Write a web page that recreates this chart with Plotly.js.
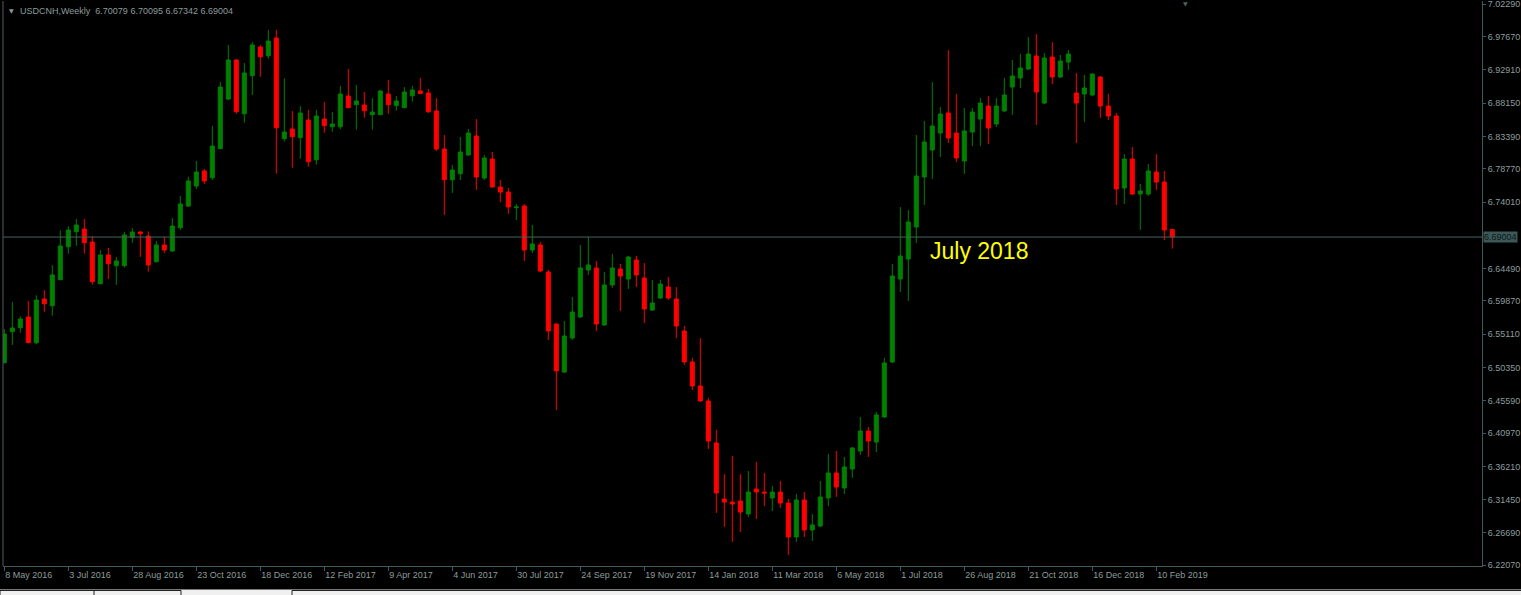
<!DOCTYPE html>
<html>
<head>
<meta charset="utf-8">
<script src="https://cdn.plot.ly/plotly-3.0.1.min.js"></script>
<style>
html,body{margin:0;padding:0;background:#000;overflow:hidden;}
#chart{width:1521px;height:595px;}
</style>
</head>
<body>
<div id="chart"></div>
<script>
// USDCNH weekly candles, first bar = week of 8 May 2016
const firstWeek = '2016-05-08';
const openV = [6.5103,6.5547,6.5604,6.5757,6.5389,6.6014,6.5918,6.6290,6.6762,6.6977,
6.7015,6.6829,6.6233,6.6644,6.6491,6.6491,6.6897,6.6972,6.6915,6.6548,
6.6787,6.6701,6.7034,6.7344,6.7630,6.7845,6.7749,6.8164,6.8874,6.9432,
6.8664,6.9208,6.9618,6.9493,6.9747,6.8307,6.8445,6.8321,6.8574,6.8006,
6.8588,6.8478,6.8478,6.8917,6.8793,6.8789,6.8650,6.8650,6.8946,6.8779,
6.8750,6.8921,6.8989,6.8960,6.8703,6.8159,6.7720,6.7806,6.8074,6.8345,
6.7745,6.8016,6.7616,6.7544,6.7320,6.7344,6.6715,6.6787,6.6400,6.5657,
6.4970,6.5457,6.5757,6.6429,6.6458,6.5643,6.6215,6.6443,6.6300,6.6572,
6.6315,6.5857,6.6029,6.6186,6.6014,6.5557,6.5114,6.4770,6.4556,6.3955,
6.3154,6.3111,6.3126,6.2940,6.3297,6.3254,6.3169,6.3254,6.3097,6.2611,
6.3140,6.2711,6.2768,6.3169,6.3526,6.3312,6.3583,6.3841,6.4127,6.3969,
6.4327,6.5114,6.6300,6.6586,6.7044,6.7759,6.8145,6.8388,6.8674,6.8388,
6.7988,6.8402,6.8588,6.8774,6.8517,6.8703,6.9046,6.9175,6.9303,6.9489,
6.8817,6.9475,6.9189,6.9403,6.8960,6.8946,6.8932,6.9189,6.8774,6.8631,
6.7602,6.8016,6.7516,6.7516,6.7830,6.7687,6.70079];
const highV = [6.5585,6.5971,6.5767,6.5986,6.6067,6.6143,6.6496,6.6997,6.7054,6.7158,
6.7158,6.6915,6.6715,6.6744,6.6615,6.6972,6.7030,6.6982,6.6982,6.6844,
6.6901,6.7173,6.7487,6.7763,6.7988,6.7873,6.8488,6.9117,6.9647,6.9446,
6.9389,6.9689,6.9647,6.9861,6.9861,6.9170,6.8703,6.8774,6.8717,6.8717,
6.8831,6.8688,6.9060,6.9303,6.9075,6.8974,6.8889,6.9003,6.9146,6.8917,
6.9046,6.9060,6.9175,6.9017,6.8889,6.8360,6.7931,6.8331,6.8445,6.8588,
6.8074,6.8116,6.7716,6.7602,6.7373,6.7373,6.7073,6.6829,6.6429,6.5660,
6.5700,6.6043,6.6787,6.6901,6.6558,6.6400,6.6658,6.6515,6.6629,6.6629,
6.6529,6.6286,6.6286,6.6329,6.6186,6.5628,6.5171,6.5457,6.4599,6.4141,
6.3512,6.3769,6.3512,6.3555,6.3683,6.3526,6.3340,6.3412,6.3154,6.3226,
6.3254,6.2940,6.3412,6.3798,6.3841,6.3755,6.3898,6.4327,6.4184,6.4399,
6.5171,6.6515,6.7330,6.7287,6.8360,6.8560,6.9117,6.8760,6.9575,6.8946,
6.8746,6.8746,6.8889,6.8917,6.8889,6.9175,6.9432,6.9518,6.9761,6.9804,
6.9532,6.9689,6.9504,6.9575,6.9246,6.9218,6.9240,6.9203,6.8946,6.8674,
6.8088,6.8188,6.7659,6.7945,6.8088,6.7845,6.70095];
const lowV = [6.5095,6.5357,6.5532,6.5385,6.5371,6.5833,6.5776,6.6286,6.6662,6.6777,
6.6662,6.6219,6.6222,6.6300,6.6215,6.6462,6.6819,6.6615,6.6405,6.6536,
6.6672,6.6686,6.7001,6.7330,6.7587,6.7659,6.7716,6.8159,6.8860,6.8664,
6.8535,6.8932,6.9193,6.9451,6.7806,6.8264,6.7892,6.8021,6.7906,6.7935,
6.8392,6.8407,6.8441,6.8745,6.8435,6.8607,6.8435,6.8646,6.8664,6.8707,
6.8746,6.8836,6.8950,6.8674,6.8131,6.7216,6.7530,6.7716,6.8064,6.7573,
6.7716,6.7612,6.7401,6.7230,6.7144,6.6558,6.6672,6.6400,6.5428,6.4427,
6.4956,6.5428,6.5743,6.6358,6.5557,6.5628,6.6172,6.5843,6.6157,6.6186,
6.5671,6.5843,6.6014,6.6000,6.5457,6.5071,6.4713,6.4541,6.3869,6.2954,
6.2754,6.2539,6.2682,6.2897,6.2868,6.3054,6.2983,6.3026,6.2354,6.2539,
6.2611,6.2554,6.2754,6.3054,6.3183,6.3226,6.3455,6.3784,6.3755,6.3826,
6.4313,6.5099,6.6114,6.5986,6.6815,6.7359,6.7730,6.8045,6.8245,6.7973,
6.7802,6.8202,6.8202,6.8231,6.8474,6.8688,6.8646,6.9032,6.9289,6.8503,
6.8803,6.9089,6.9175,6.9289,6.8245,6.8545,6.8917,6.8603,6.8574,6.7359,
6.7373,6.7502,6.7001,6.7487,6.7573,6.6858,6.67342];
const closeV = [6.5514,6.5600,6.5728,6.5389,6.6000,6.5947,6.6358,6.6772,6.7001,6.7073,
6.6819,6.6262,6.6644,6.6519,6.6558,6.6930,6.6972,6.6948,6.6501,6.6787,
6.6715,6.7058,6.7373,6.7702,6.7830,6.7702,6.8202,6.9046,6.9432,6.8693,
6.9246,6.9647,6.9479,6.9704,6.8464,6.8402,6.8335,6.8674,6.7978,6.8631,
6.8493,6.8517,6.8946,6.8750,6.8846,6.8707,6.8688,6.8989,6.8793,6.8846,
6.8974,6.9003,6.8953,6.8693,6.8159,6.7720,6.7859,6.8116,6.8388,6.7759,
6.8031,6.7616,6.7544,6.7330,6.7330,6.6715,6.6801,6.6415,6.5557,6.4985,
6.5485,6.5828,6.6458,6.6501,6.5657,6.6215,6.6458,6.6343,6.6615,6.6358,
6.5871,6.5957,6.6229,6.6029,6.5628,6.5114,6.4770,6.4556,6.3984,6.3240,
6.3111,6.3083,6.2968,6.3254,6.3254,6.3240,6.3254,6.3097,6.2611,6.3140,
6.2711,6.2783,6.3183,6.3526,6.3326,6.3612,6.3884,6.4127,6.3984,6.4356,
6.5099,6.6343,6.6629,6.7115,6.7773,6.8259,6.8488,6.8660,6.8317,6.8031,
6.8417,6.8688,6.8817,6.8460,6.8774,6.8932,6.9203,6.9318,6.9518,6.8974,
6.9461,6.9189,6.9418,6.9518,6.8817,6.9032,6.9232,6.8774,6.8631,6.7587,
6.8016,6.7516,6.7559,6.7845,6.7687,6.7001,6.69004];

const tickDates = ['2016-05-08','2016-07-03','2016-08-28','2016-10-23','2016-12-18','2017-02-12','2017-04-09','2017-06-04','2017-07-30','2017-09-24','2017-11-19','2018-01-14','2018-03-11','2018-05-06','2018-07-01','2018-08-26','2018-10-21','2018-12-16','2019-02-10'];
const tickLabels = ['8 May 2016','3 Jul 2016','28 Aug 2016','23 Oct 2016','18 Dec 2016','12 Feb 2017','9 Apr 2017','4 Jun 2017','30 Jul 2017','24 Sep 2017','19 Nov 2017','14 Jan 2018','11 Mar 2018','6 May 2018','1 Jul 2018','26 Aug 2018','21 Oct 2018','16 Dec 2018','10 Feb 2019'];
const priceTicks = [7.02290,6.97670,6.92910,6.88150,6.83390,6.78770,6.74010,6.64490,6.59870,6.55110,6.50350,6.45590,6.40970,6.36210,6.31450,6.26690,6.22070];
const lastPrice = 6.69004;
const headerText = 'USDCNH,Weekly\u00a0\u00a06.70079 6.70095 6.67342 6.69004';
const noteText = 'July 2018';

// weekly bar dates
const dates = [];
const d0 = new Date(firstWeek + 'T00:00:00Z').getTime();
for (let i = 0; i < openV.length; i++) {
  dates.push(new Date(d0 + i * 7 * 86400000).toISOString().slice(0, 10));
}

const DAY = 86400000;
const xStart = d0 - 1.14 * DAY;
const xEnd = xStart + 1479 * 7 / 8 * DAY;
const iso = t => new Date(t).toISOString().slice(0, 19).replace('T', ' ');

const axisCol = '#3e5a5a';
const txtCol = '#8c9c9c';
const fnt = 'Liberation Sans, Arial, sans-serif';

const trace = {
  type: 'candlestick',
  x: dates, open: openV, high: highV, low: lowV, close: closeV,
  increasing: {line: {color: '#008000', width: 1}, fillcolor: '#008000'},
  decreasing: {line: {color: '#ff0000', width: 1}, fillcolor: '#ff0000'},
  whiskerwidth: 0,
  hoverinfo: 'skip',
  showlegend: false
};

const py = p => (566 - p) / 565; // pixel row -> paper y

const layout = {
  width: 1521, height: 595,
  paper_bgcolor: '#000', plot_bgcolor: '#000',
  margin: {l: 3, r: 39, t: 1, b: 29, pad: 0},
  boxgap: 0.5, boxgroupgap: 0,
  showlegend: false,
  xaxis: {
    type: 'date', range: [iso(xStart), iso(xEnd)],
    rangeslider: {visible: false},
    showgrid: false, zeroline: false,
    showline: true, linecolor: axisCol, linewidth: 1,
    ticks: 'outside', ticklen: 4, tickcolor: axisCol, tickwidth: 1,
    tickmode: 'array', tickvals: tickDates, ticktext: tickLabels,
    ticklabelposition: 'outside right',
    tickfont: {family: fnt, size: 9, color: txtCol},
    fixedrange: true
  },
  yaxis: {
    side: 'right', range: [6.2196, 7.0276],
    showgrid: false, zeroline: false,
    showline: true, linecolor: axisCol, linewidth: 1,
    ticks: 'outside', ticklen: 3, tickcolor: axisCol,
    tickmode: 'array', tickvals: priceTicks, ticktext: priceTicks.map(v => v.toFixed(5)),
    ticklabeloverflow: 'allow',
    tickfont: {family: fnt, size: 9, color: txtCol},
    fixedrange: true
  },
  shapes: [
    {type: 'line', xref: 'paper', yref: 'y', x0: 0, x1: 1, y0: lastPrice, y1: lastPrice,
     line: {color: '#4a6262', width: 1}},
    {type: 'line', xref: 'paper', yref: 'paper', x0: 0, x1: 0, y0: 0, y1: 1,
     line: {color: '#505a5a', width: 1}},
    {type: 'rect', xref: 'paper', yref: 'paper', x0: -0.01, x1: 1.04, y0: py(595.5), y1: py(589.5),
     fillcolor: '#f0f0f0', line: {width: 0}},
    {type: 'rect', xref: 'paper', yref: 'paper', x0: (0 - 3) / 1479, x1: (181 - 3) / 1479, y0: py(596), y1: py(590.5),
     fillcolor: 'rgba(0,0,0,0)', line: {color: '#222', width: 1}},
    {type: 'rect', xref: 'paper', yref: 'paper', x0: (292 - 3) / 1479, x1: 1.04, y0: py(596), y1: py(590.5),
     fillcolor: 'rgba(0,0,0,0)', line: {color: '#222', width: 1}},
    {type: 'line', xref: 'paper', yref: 'paper', x0: (94 - 3) / 1479, x1: (94 - 3) / 1479, y0: py(596), y1: py(591),
     line: {color: '#222', width: 1}}
  ],
  annotations: [
    {xref: 'paper', yref: 'y', x: 1, y: lastPrice, xanchor: 'left', yanchor: 'middle',
     xshift: 1, text: lastPrice.toFixed(5), showarrow: false, bgcolor: '#3d5858', borderpad: 0,
     font: {family: fnt, size: 9, color: '#0c1818'}},
    {xref: 'paper', yref: 'paper', x: (7 - 3) / 1479, y: py(10.5), xanchor: 'left', yanchor: 'middle',
     text: '\u25BC', showarrow: false, font: {family: 'DejaVu Sans', size: 6, color: txtCol}},
    {xref: 'paper', yref: 'paper', x: (18 - 3) / 1479, y: py(10.5), xanchor: 'left', yanchor: 'middle',
     text: headerText, showarrow: false, font: {family: fnt, size: 9, color: txtCol}},
    {xref: 'paper', yref: 'paper', x: (1181 - 3) / 1479, y: py(4), xanchor: 'left', yanchor: 'middle',
     text: '\u25BC', showarrow: false, font: {family: 'DejaVu Sans', size: 6, color: '#4a6262'}},
    {xref: 'paper', yref: 'paper', x: (928 - 3) / 1479, y: py(251), xanchor: 'left', yanchor: 'middle',
     text: noteText, showarrow: false, font: {family: fnt, size: 23, color: '#ffff00'}}
  ]
};

Plotly.newPlot('chart', [trace], layout, {displayModeBar: false, staticPlot: true});
</script>
</body>
</html>
